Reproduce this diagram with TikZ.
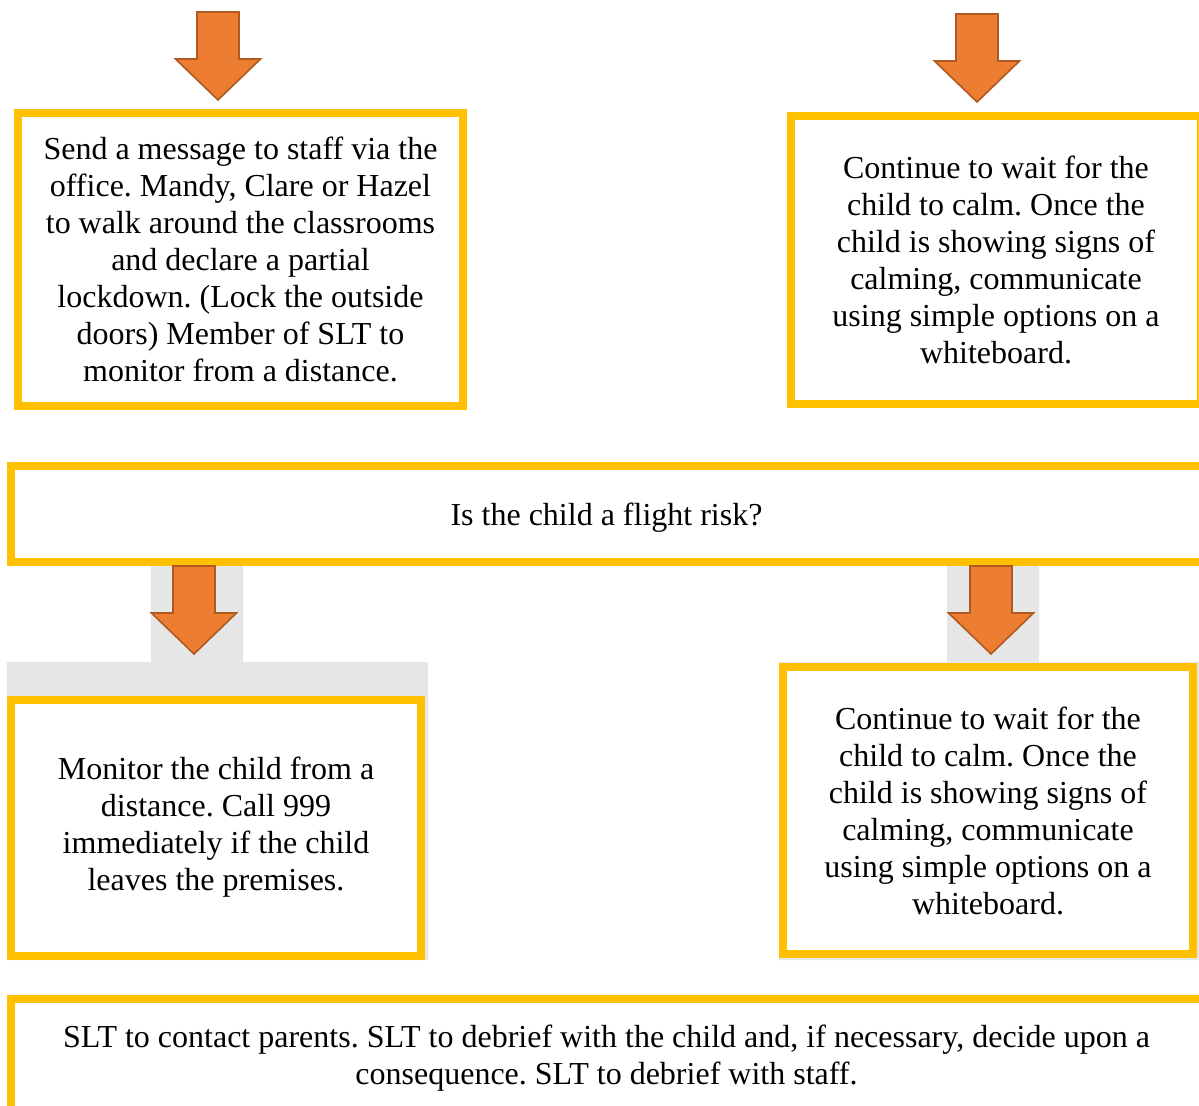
\documentclass[tikz,border=0pt]{standalone}
\usepackage{fontspec}
\setmainfont{Liberation Serif}
\definecolor{boxyellow}{HTML}{FFC000}
\definecolor{arroworange}{HTML}{ED7D31}
\definecolor{arrowedge}{HTML}{AE5A21}
\definecolor{backgray}{HTML}{E6E6E6}
\frenchspacing

\begin{document}
\begin{tikzpicture}[x=0.75pt, y=-0.75pt,
        boxtext/.style={align=center, inner sep=0pt, font=\fontsize{24}{27.75}\selectfont},
        box/.style={boxtext, draw=boxyellow, line width=6pt, fill=white},
        frame/.style={draw=boxyellow, line width=6pt, fill=white},
        arrowline/.style={fill=arroworange, draw=arrowedge, line width=1.2pt, line join=miter},
        downarrow/.pic={
            \draw[arrowline] (0,0) -- (-42.5,-41) -- (-21,-41) -- (-21,-88)
                -- (21,-88) -- (21,-41) -- (42.5,-41) -- cycle;
        }]
        \useasboundingbox (0,0) rectangle (1199,1106);
        \clip (0,0) rectangle (1199,1106);

        % grey backing behind the lower boxes
        \fill[backgray] (151,566) rectangle (243,662) (7,662) rectangle (428,960);
        \fill[backgray] (947,566) rectangle (1039,662) (779,662) rectangle (1199,960);

        % the two wide boxes run past the right edge
        \draw[frame] (11,466) rectangle (1215,562);
        \draw[frame] (11,999) rectangle (1215,1111);

        \node[box, minimum width=333.75pt, minimum height=219.75pt] (send) at (240.5,259.5)
            {Send a message to staff via the\\ office. Mandy, Clare or Hazel\\ to walk around the classrooms\\
             and declare a partial\\ lockdown. (Lock the outside\\ doors) Member of SLT to\\ monitor from a distance.};
        \node[box, minimum width=307.5pt, minimum height=216pt] (waitA) at (996,260)
            {Continue to wait for the\\ child to calm. Once the\\ child is showing signs of\\
             calming, communicate\\ using simple options on a\\ whiteboard.};
        \node[boxtext] (risk) at (606.5,518)
            {Is the child a flight risk?};
        \node[box, minimum width=307.5pt, minimum height=192pt] (monitor) at (216,827.5)
            {Monitor the child from a\\ distance. Call 999\\ immediately if the child\\ leaves the premises.};
        \node[box, minimum width=307.5pt, minimum height=215.25pt] (waitB) at (988,810.5)
            {Continue to wait for the\\ child to calm. Once the\\ child is showing signs of\\
             calming, communicate\\ using simple options on a\\ whiteboard.};
        \node[boxtext] (slt) at (606.5,1058.5)
            {SLT to contact parents. SLT to debrief with the child and, if necessary, decide upon a\\
             consequence. SLT to debrief with staff.};

        \pic at (218,100) {downarrow};
        \pic at (977,102) {downarrow};
        \pic at (194,654) {downarrow};
        \pic at (991,654) {downarrow};
    \end{tikzpicture}
\end{document}
